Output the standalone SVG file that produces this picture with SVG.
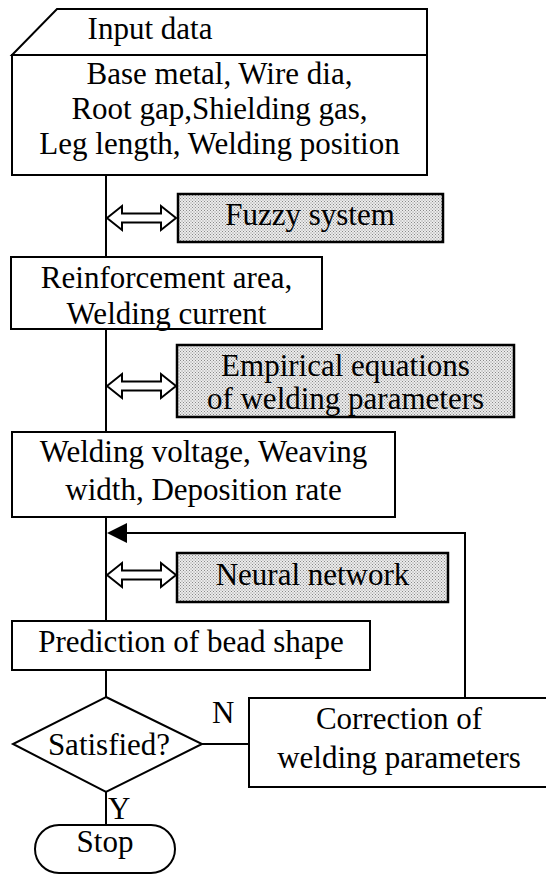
<svg xmlns="http://www.w3.org/2000/svg" width="546" height="876" viewBox="0 0 546 876">
<defs>
<pattern id="dots" width="3" height="3" patternUnits="userSpaceOnUse">
<rect width="3" height="3" fill="#ececec"/>
<rect x="0" y="0" width="1" height="1" fill="#8a8a8a"/>
<rect x="1.5" y="1.5" width="1" height="1" fill="#8a8a8a"/>
</pattern>
</defs>
<style>
.box{fill:#fff;stroke:#000;stroke-width:2}
.shade{fill:url(#dots);stroke:#000;stroke-width:2.5}
.ln{fill:none;stroke:#000;stroke-width:2}
.dbl{fill:#fff;stroke:#000;stroke-width:2;stroke-linejoin:miter}
text{font-family:"Liberation Serif","Times New Roman",serif;font-size:31px;fill:#000}
.c{text-anchor:middle}
</style>
<rect width="546" height="876" fill="#fff"/>
<g id="connectors">
<line class="ln" x1="106" y1="175" x2="106" y2="257"/>
<line class="ln" x1="106" y1="329" x2="106" y2="432"/>
<line class="ln" x1="106" y1="517" x2="106" y2="621"/>
<line class="ln" x1="106" y1="670" x2="106" y2="697"/>
<line class="ln" x1="106" y1="792" x2="106" y2="825"/>
<line class="ln" x1="202" y1="744" x2="249" y2="744"/>
<polyline class="ln" points="465,698 465,533 125,533"/>
<polygon points="107,533 127,523 127,543" fill="#000"/>
<polygon class="dbl" points="107,218 122,206 122,213.5 161,213.5 161,206 176,218 161,230 161,222.5 122,222.5 122,230"/>
<polygon class="dbl" points="107,386 122,374 122,381.5 161,381.5 161,374 176,386 161,398 161,390.5 122,390.5 122,398"/>
<polygon class="dbl" points="107,575 122,563 122,570.5 161,570.5 161,563 176,575 161,587 161,579.5 122,579.5 122,587"/>
</g>
<g id="input">
<polygon class="box" points="57,9 427,9 427,55 12,55"/>
<text class="c" x="150" y="39">Input data</text>
<rect class="box" x="12" y="55" width="415" height="120"/>
<text class="c" x="219.5" y="84">Base metal, Wire dia,</text>
<text class="c" x="219.5" y="119">Root gap,Shielding gas,</text>
<text class="c" x="219.5" y="154">Leg length, Welding position</text>
</g>
<g id="fuzzy">
<rect class="shade" x="178" y="194" width="265" height="48"/>
<text class="c" x="310" y="225">Fuzzy system</text>
</g>
<g id="reinforcement">
<rect class="box" x="11" y="257" width="311" height="72"/>
<text class="c" x="166.5" y="288">Reinforcement area,</text>
<text class="c" x="166.5" y="324">Welding current</text>
</g>
<g id="empirical">
<rect class="shade" x="177" y="345" width="337" height="72"/>
<text class="c" x="345.5" y="376">Empirical equations</text>
<text class="c" x="345.5" y="409">of welding parameters</text>
</g>
<g id="voltage">
<rect class="box" x="12" y="432" width="383" height="85"/>
<text class="c" x="203.5" y="462">Welding voltage, Weaving</text>
<text class="c" x="203.5" y="500">width, Deposition rate</text>
</g>
<g id="neural">
<rect class="shade" x="177" y="553" width="271" height="49"/>
<text class="c" x="312.5" y="585">Neural network</text>
</g>
<g id="prediction">
<rect class="box" x="12" y="621" width="358" height="49"/>
<text class="c" x="191" y="652">Prediction of bead shape</text>
</g>
<g id="satisfied">
<polygon class="box" points="106,697 202,744 106,792 13,744"/>
<text class="c" x="109" y="755">Satisfied?</text>
<text x="212" y="723">N</text>
<text x="108" y="819">Y</text>
</g>
<g id="correction">
<rect class="box" x="249" y="698" width="302" height="89"/>
<text class="c" x="399" y="729">Correction of</text>
<text class="c" x="399" y="768">welding parameters</text>
</g>
<g id="stop">
<rect class="box" x="35" y="825" width="140" height="48" rx="24" ry="24"/>
<text class="c" x="105" y="852">Stop</text>
</g>
</svg>
